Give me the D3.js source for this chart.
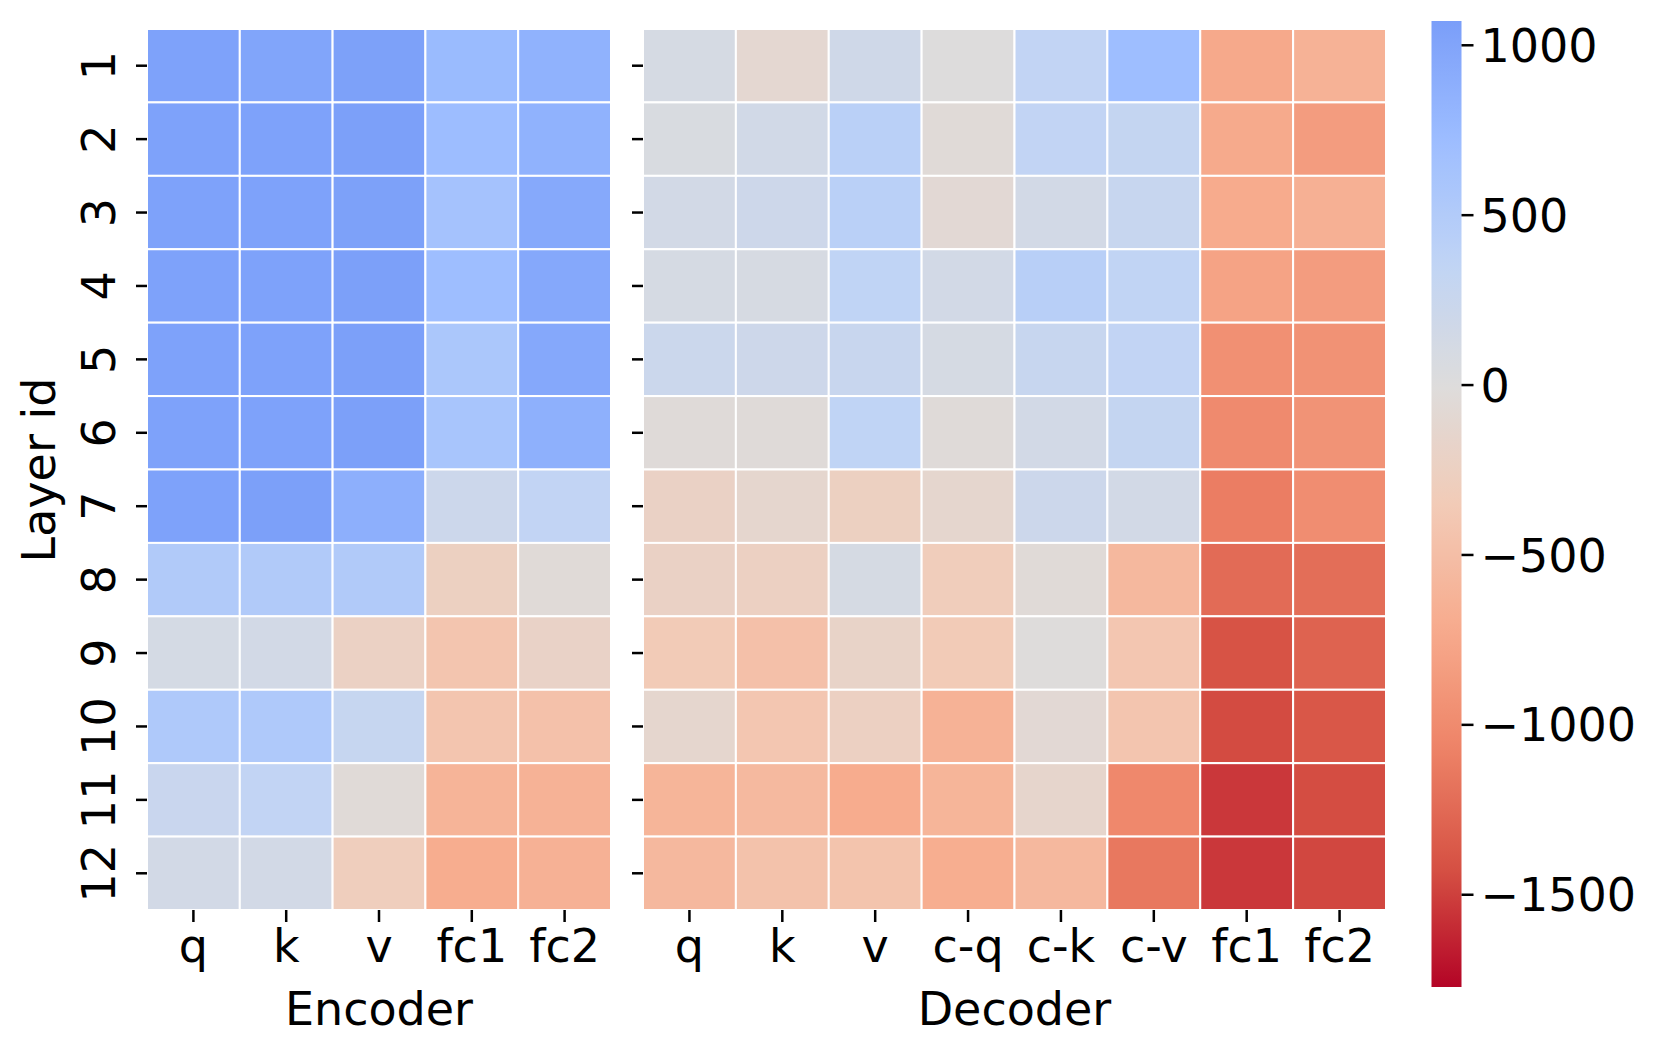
<!DOCTYPE html>
<html lang="en">
<head>
<meta charset="UTF-8">
<title>Layer heatmap</title>
<style type="text/css">
body{
  margin: 0;
  background: #fff;
}
text{
  font-family: "DejaVu Sans", sans-serif;
  fill: #000;
}
</style>
<script src="https://d3js.org/d3.v7.min.js"></script>
</head>
<body>
<div id="grafico"></div>

<script>
// datos
var layers = ["1","2","3","4","5","6","7","8","9","10","11","12"];
var encoderCols = ["q","k","v","fc1","fc2"];
var decoderCols = ["q","k","v","c-q","c-k","c-v","fc1","fc2"];

var encoderVals = [
  [1030, 1000, 1040,  745,  850],
  [1030, 1030, 1050,  715,  850],
  [1030, 1030, 1040,  640,  955],
  [1030, 1030, 1050,  710,  960],
  [1030, 1030, 1050,  570,  965],
  [1030, 1030, 1050,  600,  870],
  [1030, 1050,  880,  210,  335],
  [ 510,  510,  510, -260,  -50],
  [ 110,  140, -230, -420, -200],
  [ 530,  530,  280, -420, -470],
  [ 250,  335,  -50, -620, -640],
  [ 140,  140, -300, -700, -650]
];

var decoderVals = [
  [ 100, -110,  170,    0,  335,  710,  -740,  -640],
  [  60,  150,  420,  -50,  335,  300,  -730,  -850],
  [ 140,  200,  420,  -80,  140,  270,  -720,  -660],
  [ 100,   90,  355,  140,  440,  345,  -790,  -850],
  [ 220,  200,  260,  100,  270,  335,  -960,  -940],
  [ -40,  -40,  355,  -40,  140,  300, -1010,  -930],
  [-220, -130, -260, -130,  210,  140, -1110,  -980],
  [-220, -250,  100, -320,  -50, -570, -1240, -1220],
  [-355, -480, -190, -355,  -10, -410, -1410, -1300],
  [-130, -410, -250, -640,  -80, -420, -1450, -1380],
  [-610, -560, -710, -610, -150, -1030, -1540, -1440],
  [-570, -460, -440, -690, -570, -1150, -1540, -1470]
];

var cbarTicks = [1000, 500, 0, -500, -1000, -1500];
var vMin = -1773, vMax = 1070;

// coolwarm (matplotlib), muestras cada 0.1
var coolwarm = ["#3b4cc0","#5977e3","#7b9ff9","#9ebeff","#c0d4f5","#dddcdc",
                "#f2cbb7","#f7ac8e","#ee8468","#d65244","#b40426"];
var cw = d3.scaleLinear()
    .domain(d3.range(0, 1.0001, 0.1))
    .range(coolwarm)
    .interpolate(d3.interpolateRgb);
// centro en 0, el rango se toma del lado mas largo
var vRange = Math.max(vMax, -vMin);
function color(v){ return cw(0.5 - v / (2 * vRange)); }

var ancho = 1661, altura = 1056;
var top0 = 29, bottom0 = 910;
var fs = "46px";

var svg = d3.select("#grafico")
    .append("svg")
    .attr("width", ancho)
    .attr("height", altura);

var escalaY = d3.scaleBand()
    .domain(layers)
    .range([top0, bottom0]);

function heatmap(cols, vals, x0, x1, label, showY){
  var escalaX = d3.scaleBand().domain(cols).range([x0, x1]);
  var g = svg.append("g");

  vals.forEach(function(row, i){
    g.selectAll(null)
      .data(row)
      .enter()
      .append("rect")
      .attr("x", function(d, j){ return escalaX(cols[j]); })
      .attr("y", escalaY(layers[i]))
      .attr("width", escalaX.bandwidth())
      .attr("height", escalaY.bandwidth())
      .attr("fill", function(d){ return color(d); })
      .attr("stroke", "#fff")
      .attr("stroke-width", 2);
  });

  // eje x
  var ax = svg.append("g")
      .attr("transform", "translate(0," + bottom0 + ")")
      .call(d3.axisBottom(escalaX).tickSize(12));
  ax.select(".domain").remove();
  ax.selectAll(".tick line").attr("stroke-width", 2.5);
  ax.selectAll(".tick text")
      .attr("y", 52).attr("dy", 0)
      .style("font-size", fs)
      .style("font-family", "'DejaVu Sans'");

  svg.append("text")
      .attr("x", (x0 + x1) / 2)
      .attr("y", 1025)
      .attr("text-anchor", "middle")
      .style("font-size", fs)
      .text(label);

  // eje y
  var ay = svg.append("g")
      .attr("transform", "translate(" + x0 + ",0)")
      .call(d3.axisLeft(escalaY).tickSize(11));
  ay.select(".domain").remove();
  ay.selectAll(".tick line").attr("stroke-width", 2.5);
  if (showY) {
    ay.selectAll(".tick text")
        .attr("x", 0).attr("y", -32).attr("dy", 0)
        .attr("text-anchor", "middle")
        .attr("transform", "rotate(-90)")
        .style("font-size", fs)
        .style("font-family", "'DejaVu Sans'");
  } else {
    ay.selectAll(".tick text").remove();
  }
}

heatmap(encoderCols, encoderVals, 147, 611, "Encoder", true);
heatmap(decoderCols, decoderVals, 643, 1386, "Decoder", false);

svg.append("text")
    .attr("transform", "translate(55,470) rotate(-90)")
    .attr("text-anchor", "middle")
    .style("font-size", fs)
    .text("Layer id");

// barra de color
var cbX = 1431.5, cbW = 30, cbTop = 21, cbBottom = 987;
var escalaC = d3.scaleLinear().domain([vMin, vMax]).range([cbBottom, cbTop]);

var grad = svg.append("defs").append("linearGradient")
    .attr("id", "cbar")
    .attr("x1", 0).attr("y1", 1).attr("x2", 0).attr("y2", 0);
d3.range(0, 1.0001, 0.02).forEach(function(p){
  grad.append("stop")
      .attr("offset", p)
      .attr("stop-color", color(vMin + p * (vMax - vMin)));
});

svg.append("rect")
    .attr("x", cbX).attr("y", cbTop)
    .attr("width", cbW).attr("height", cbBottom - cbTop)
    .attr("fill", "url(#cbar)");

var ac = svg.append("g")
    .attr("transform", "translate(" + (cbX + cbW) + ",0)")
    .call(d3.axisRight(escalaC).tickValues(cbarTicks).tickSize(12).tickPadding(7)
          .tickFormat(d3.format("d")));
ac.select(".domain").remove();
ac.selectAll(".tick line").attr("stroke-width", 2.5);
ac.selectAll(".tick text")
    .attr("dy", "0.36em")
    .style("font-size", fs)
    .style("font-family", "'DejaVu Sans'");
</script>
</body>
</html>
